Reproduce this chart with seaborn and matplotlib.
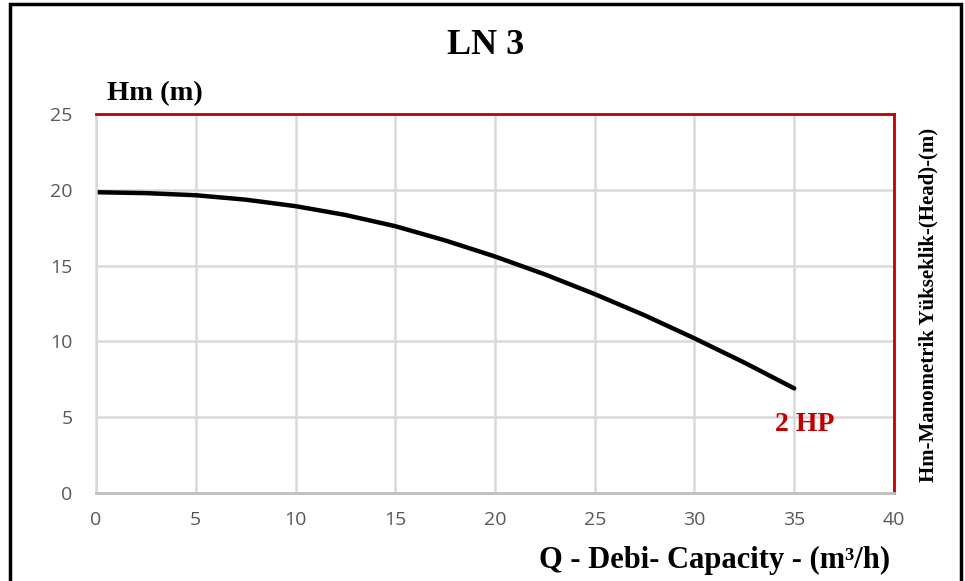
import numpy as np
import pandas as pd
import matplotlib
matplotlib.use("Agg")
import matplotlib.pyplot as plt
import seaborn as sns
from matplotlib.patches import Rectangle

# Datos (caudal vs altura)
debi = [0, 2.5, 5, 7.5, 10, 12.5, 15, 17.5, 20, 22.5, 25, 27.5, 30, 32.5, 35]
hm = [19.84, 19.78, 19.64, 19.35, 18.92, 18.34, 17.6, 16.66, 15.6, 14.42,
      13.12, 11.72, 10.2, 8.6, 6.9]
x_ticks = [0, 5, 10, 15, 20, 25, 30, 35, 40]
y_ticks = [0, 5, 10, 15, 20, 25]

df = pd.DataFrame({"Q": debi, "H": hm})

sns.set_theme(style="whitegrid")
plt.rcParams['font.family'] = ['Open Sans', 'DejaVu Sans']
plt.rcParams['text.color'] = 'black'

RED = "#C00000"
GRID = "#D9D9D9"
SERIF = ['Liberation Serif', 'DejaVu Serif']

fig = plt.figure(figsize=(9.65, 5.81), dpi=100)
ax = fig.add_axes([0.0995, 0.1515, 0.8269, 0.6523])

sns.lineplot(data=df, x="Q", y="H", color="black", linewidth=3.2, ax=ax)

ax.set_xlim(0, 40)
ax.set_ylim(0, 25)
ax.set_xticks(x_ticks)
ax.set_yticks(y_ticks)
ax.grid(True, color=GRID, linewidth=1.8)
ax.set_facecolor("white")
ax.tick_params(axis='both', length=0, labelsize=14, labelcolor="#595959")
ax.tick_params(axis='y', pad=17)
ax.tick_params(axis='x', pad=13)
ax.set_xlabel("")
ax.set_ylabel("")

for side in ["top", "right"]:
    ax.spines[side].set_color(RED)
    ax.spines[side].set_linewidth(2)
ax.spines["left"].set_color(GRID)
ax.spines["left"].set_linewidth(1.8)
ax.spines["bottom"].set_color("#BFBFBF")
ax.spines["bottom"].set_linewidth(2)

# Textos
fig.text(0.503, 0.922, "LN 3", ha="center", va="center", fontsize=26,
         fontweight="bold", family=SERIF, color="black")
fig.text(0.111, 0.818, "Hm (m)", ha="left", va="bottom", fontsize=20.5,
         fontweight="bold", family=SERIF, color="black")
fig.text(0.962, 0.475, "Hm-Manometrik Yükseklik-(Head)-(m)", rotation=90,
         ha="center", va="center", fontsize=15, fontweight="bold", family=SERIF,
         color="black")
fig.text(0.922, 0.035, "Q - Debi- Capacity - (m³/h)", ha="right", va="center",
         fontsize=22, fontweight="bold", family=SERIF, color="black")
ax.text(35.5, 4.55, "2 HP", color=RED, ha="center", va="center", fontsize=20,
        fontweight="bold", family=SERIF)

# Marco exterior
fig.patches.append(Rectangle((0.0105, -0.05), 0.9855, 1.043, transform=fig.transFigure,
                             fill=False, edgecolor="black", linewidth=2.5))

fig.savefig("out.png", dpi=100)
